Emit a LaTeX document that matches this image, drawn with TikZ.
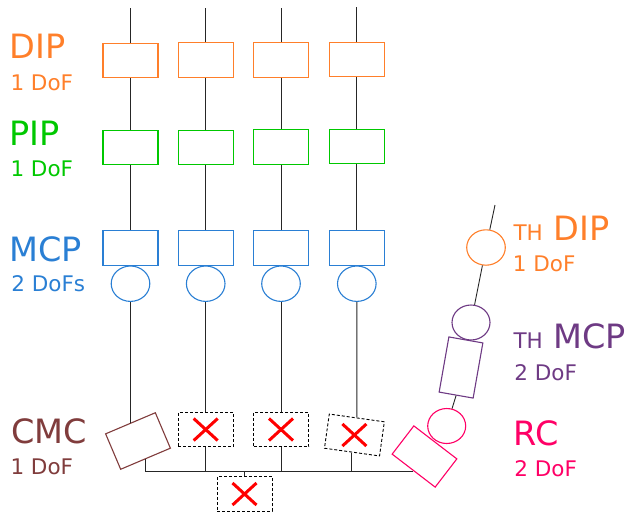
\documentclass[tikz,border=0pt]{standalone}
\usepackage{fontspec}
\setmainfont{DejaVu Sans}
\usetikzlibrary{shapes.geometric}
\definecolor{cdip}{HTML}{FF7F2A}
\definecolor{cpip}{HTML}{00C800}
\definecolor{cmcp}{HTML}{2A7FD4}
\definecolor{ccmc}{HTML}{803C3C}
\definecolor{cthm}{HTML}{6E3A84}
\definecolor{crc}{HTML}{FF0066}
\definecolor{cxm}{HTML}{FF0000}
\begin{document}
\begin{tikzpicture}[x=1pt,y=-1pt,
  jbox/.style={draw,line width=1.1pt,minimum width=55pt,minimum height=34.5pt,inner sep=0pt,fill=white},
  jcirc/.style={ellipse,draw,line width=1.1pt,minimum width=38.6pt,minimum height=35.4pt,inner sep=0pt,fill=white},
  xbox/.style={draw,dashed,dash pattern=on 3pt off 2pt,line width=0.9pt,minimum width=55pt,minimum height=34.5pt,inner sep=0pt},
  xmark/.style={draw=cxm,line width=3pt},
  link/.style={draw=black!85,line width=0.9pt},
  big/.style={inner sep=0pt,anchor=base west,font=\fontsize{33.5}{38}\selectfont},
  small/.style={inner sep=0pt,anchor=base west,font=\fontsize{21.5}{24}\selectfont},
]
\useasboundingbox (0,0) rectangle (628,512);

% finger tops
\coordinate (t1) at (130.5,8);
\coordinate (t2) at (205.7,8);
\coordinate (t3) at (281,8);
\coordinate (t4) at (356.8,7);

% DIP boxes
\node[jbox,draw=cdip] (dip1) at (130.5,60.3) {};
\node[jbox,draw=cdip] (dip2) at (205.7,60) {};
\node[jbox,draw=cdip] (dip3) at (281,59.8) {};
\node[jbox,draw=cdip] (dip4) at (356.8,59.3) {};
% PIP boxes
\node[jbox,draw=cpip] (pip1) at (130.5,147.6) {};
\node[jbox,draw=cpip] (pip2) at (205.7,147.6) {};
\node[jbox,draw=cpip] (pip3) at (281,147) {};
\node[jbox,draw=cpip] (pip4) at (356.8,146.4) {};
% MCP boxes
\node[jbox,draw=cmcp] (mcp1) at (130.5,247.8) {};
\node[jbox,draw=cmcp] (mcp2) at (205.7,247.8) {};
\node[jbox,draw=cmcp] (mcp3) at (281,247.8) {};
\node[jbox,draw=cmcp] (mcp4) at (356.8,247.8) {};
% MCP circles
\node[jcirc,draw=cmcp] (mc1) at (130.5,283.7) {};
\node[jcirc,draw=cmcp] (mc2) at (205.7,283.7) {};
\node[jcirc,draw=cmcp] (mc3) at (281,283.7) {};
\node[jcirc,draw=cmcp] (mc4) at (356.8,283.7) {};

% CMC and locked boxes
\node[jbox,draw=ccmc,minimum width=54pt,minimum height=38.5pt,rotate=23] (cmc) at (138,441) {};
\node[xbox] (x2) at (205.7,429.5) {};
\node[xbox] (x3) at (281,429.5) {};
\node[xbox,minimum width=55.6pt,rotate=-8] (x4) at (354.4,435) {};
\node[xbox] (xb) at (244.5,494) {};

% thumb
\coordinate (tht) at (495,205);
\node[jcirc,draw=cdip] (thdip) at (486,247.5) {};
\node[jcirc,draw=cthm,minimum width=38pt,minimum height=35pt] (thmc) at (471,322.5) {};
\node[jbox,draw=cthm,minimum width=34.5pt,minimum height=56pt,rotate=-10] (thbox) at (461,367.5) {};
\node[jcirc,draw=crc,minimum width=38pt,minimum height=35pt] (rcc) at (446.7,426) {};
\node[jbox,draw=crc,minimum width=54.2pt,minimum height=35.6pt,rotate=-37.5] (rc) at (424.5,456.5) {};

% finger links
\foreach \i in {1,2,3,4}{
  \draw[link] (t\i) -- (dip\i.north);
  \draw[link] (dip\i.south) -- (pip\i.north);
  \draw[link] (pip\i.south) -- (mcp\i.north);
}
\draw[link] (mc1.south) -- (mc1.south |- cmc.north);
\draw[link] (mc2.south) -- (x2.north);
\draw[link] (mc3.south) -- (x3.north);
\draw[link] (mc4.south) -- (x4.north);

% palm bar
\draw[link] (cmc.south) |- (rc.south);
\draw[link] (x2.south) -- (x2.south |- rc.south);
\draw[link] (x3.south) -- (x3.south |- rc.south);
\draw[link] (x4.south) -- (x4.south |- rc.south);
\draw[link] (xb.north) -- (xb.north |- rc.south);

% thumb links
\draw[link] (tht) -- (thdip);
\draw[link] (thdip) -- (thmc);
\draw[link] (thbox.south) -- (rcc);

% crosses
\foreach \n in {x2,x3,x4,xb}{
  \draw[xmark] ([shift={(-12,-11)}]\n.center) -- ([shift={(12,11)}]\n.center);
  \draw[xmark] ([shift={(-12,11)}]\n.center) -- ([shift={(12,-11)}]\n.center);
}

% left labels
\node[big,text=cdip] (ldip) at (9.4,58.3) {DIP};
\node[small,text=cdip] (ldipd) at (10.3,90) {1 DoF};
\node[big,text=cpip] (lpip) at (9.4,145) {PIP};
\node[small,text=cpip] (lpipd) at (10.3,176) {1 DoF};
\node[big,text=cmcp] (lmcp) at (9.4,261.7) {MCP};
\node[small,text=cmcp] (lmcpd) at (11.1,291.7) {2 DoFs};
\node[big,text=ccmc] (lcmc) at (10.8,443.3) {CMC};
\node[small,text=ccmc] (lcmcd) at (10.3,474) {1 DoF};

% right labels
\node[big,text=cdip] (rdip) at (513.3,240.7) {{\fontsize{21.5}{24}\selectfont TH} DIP};
\node[small,text=cdip] (rdipd) at (512.7,271.7) {1 DoF};
\node[big,text=cthm] (rmcp) at (513.3,348.3) {{\fontsize{21.5}{24}\selectfont TH} MCP};
\node[small,text=cthm] (rmcpd) at (514.1,380) {2 DoF};
\node[big,text=crc] (rrc) at (513.5,445) {RC};
\node[small,text=crc] (rrcd) at (514.1,476.7) {2 DoF};
\end{tikzpicture}
\end{document}
